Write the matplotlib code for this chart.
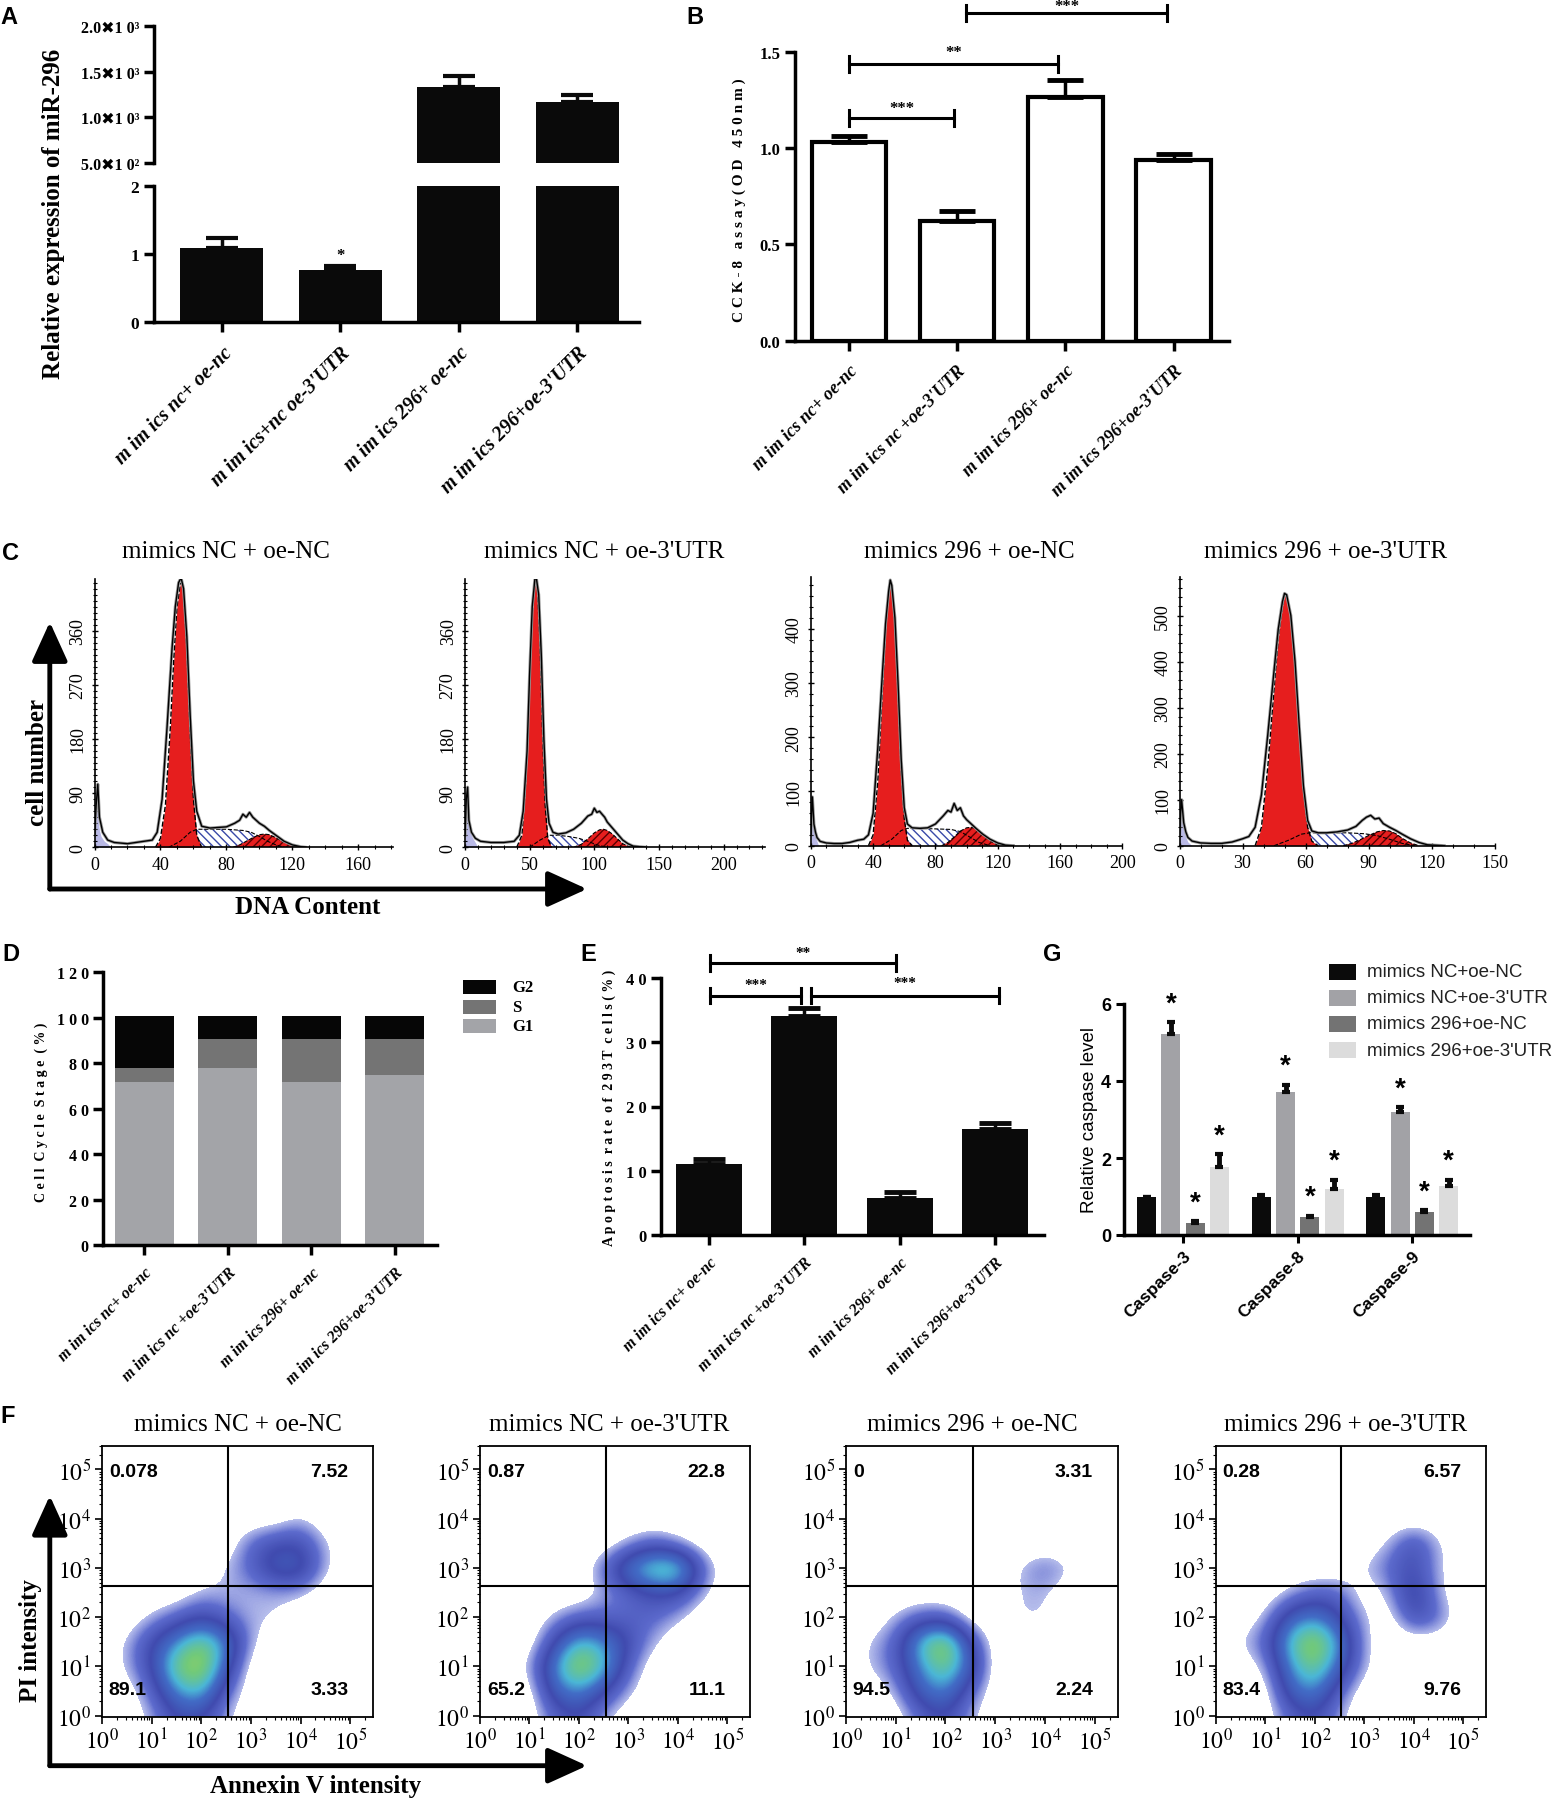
import numpy as np
import matplotlib
matplotlib.use('Agg')
import matplotlib.pyplot as plt
from matplotlib.patches import FancyArrowPatch, Rectangle
from matplotlib.colors import LinearSegmentedColormap
from matplotlib.ticker import MultipleLocator, FixedLocator

plt.rcParams['font.family'] = ['Liberation Serif', 'DejaVu Sans']
plt.rcParams['mathtext.fontset'] = 'stix'
plt.rcParams['hatch.linewidth'] = 1.0

# ---------------- data ----------------
# Panel A
a_labels = ["m im ics nc+ oe-nc", "m im ics+nc oe-3'UTR", "m im ics 296+ oe-nc", "m im ics 296+oe-3'UTR"]
a_mean = [1.09, 0.76, 1330, 1173]
a_err = [0.145, 0.06, 121, 77]
a_upper_ticks = [500, 1000, 1500, 2000]
a_upper_labels = ['5.0\u27161 0\u00b2', '1.0\u27161 0\u00b3', '1.5\u27161 0\u00b3', '2.0\u27161 0\u00b3']

# Panel B
b_labels = ["m im ics nc+ oe-nc", "m im ics nc +oe-3'UTR", "m im ics 296+ oe-nc", "m im ics 296+oe-3'UTR"]
b_mean = [1.033, 0.623, 1.263, 0.939]
b_err = [0.031, 0.052, 0.090, 0.030]

# Panel C (flow cytometry DNA histograms)
c_titles = ["mimics NC + oe-NC", "mimics NC + oe-3'UTR", "mimics 296 + oe-NC", "mimics 296 + oe-3'UTR"]
c_xticks = [[0, 40, 80, 120, 160], [0, 50, 100, 150, 200], [0, 40, 80, 120, 160, 200], [0, 30, 60, 90, 120, 150]]
c_yticks = [[0, 90, 180, 270, 360], [0, 90, 180, 270, 360], [0, 100, 200, 300, 400], [0, 100, 200, 300, 400, 500]]
c_xmax = [181, 232, 200, 150]
c_ymax = [446, 446, 495, 583]

c1_env_x = [0, 1, 2, 3, 5, 8, 12, 20, 30, 35, 38, 41, 44, 47, 49, 51, 52.5, 54, 56, 58, 60, 62, 65, 70, 75, 80, 85, 88, 90, 92, 94, 96, 98, 100, 103, 106, 110, 115, 120, 125, 128]
c1_env_y = [20, 70, 105, 50, 25, 12, 8, 6, 10, 12, 25, 80, 200, 330, 400, 440, 448, 430, 350, 220, 110, 60, 35, 32, 33, 34, 40, 45, 55, 50, 58, 50, 45, 40, 35, 28, 20, 10, 4, 1, 0]
c1_g1_x = [37, 40, 43, 46, 48, 50, 52, 53, 54, 56, 58, 60, 62, 65]
c1_g1_y = [0, 15, 70, 200, 310, 400, 438, 440, 425, 330, 190, 80, 20, 0]
c1_s_x = [45, 52, 58, 62, 70, 80, 90, 95, 100, 105, 110, 115]
c1_s_y = [0, 10, 25, 30, 30, 30, 28, 25, 18, 10, 4, 0]
c1_g2_x = [84, 88, 92, 96, 100, 103, 106, 110, 114, 118, 122, 125]
c1_g2_y = [0, 4, 10, 16, 21, 22, 21, 16, 10, 5, 1, 0]
c1_deb_x = [0, 0.5, 1, 1.5, 2, 3, 4, 6, 8, 10]
c1_deb_y = [0, 40, 60, 65, 50, 28, 18, 10, 6, 0]

c2_env_x = [0, 1, 2, 3, 5, 8, 12, 20, 30, 38, 42, 45, 48, 50, 52, 54, 55, 57, 59, 61, 63, 65, 68, 72, 78, 84, 90, 95, 98, 100, 102, 104, 106, 108, 110, 114, 118, 122, 126, 130, 135, 140]
c2_env_y = [20, 80, 100, 45, 25, 15, 10, 8, 8, 10, 20, 60, 160, 290, 400, 445, 450, 420, 320, 180, 80, 40, 25, 22, 24, 30, 40, 52, 55, 65, 58, 60, 55, 50, 42, 32, 22, 12, 6, 2, 1, 0]
c2_g1_x = [40, 44, 47, 50, 52, 54, 55, 56, 58, 60, 62, 64, 67]
c2_g1_y = [0, 20, 110, 280, 390, 440, 445, 430, 340, 190, 70, 15, 0]
c2_s_x = [50, 58, 65, 72, 80, 88, 95, 102, 110]
c2_s_y = [0, 12, 20, 20, 18, 15, 10, 4, 0]
c2_g2_x = [84, 90, 95, 100, 104, 107, 110, 114, 118, 122, 126, 130]
c2_g2_y = [0, 5, 14, 24, 29, 30, 28, 22, 14, 6, 2, 0]
c2_deb_x = [0, 1, 2, 3, 4, 6, 8, 10]
c2_deb_y = [0, 60, 70, 40, 25, 15, 8, 0]

c3_env_x = [0, 0.5, 1, 2, 3, 4, 6, 10, 15, 20, 25, 30, 34, 37, 40, 43, 46, 48, 50, 51, 52, 54, 56, 58, 60, 62, 65, 70, 75, 80, 85, 88, 90, 92, 94, 96, 98, 100, 103, 106, 110, 115, 120, 125, 130]
c3_env_y = [20, 60, 90, 40, 25, 15, 8, 5, 4, 4, 6, 10, 12, 20, 60, 180, 320, 410, 470, 490, 480, 420, 300, 160, 70, 40, 33, 32, 33, 40, 55, 65, 62, 78, 65, 70, 55, 48, 40, 32, 22, 12, 5, 1, 0]
c3_g1_x = [37, 40, 43, 46, 48, 50, 51, 52, 54, 56, 58, 60, 62, 65]
c3_g1_y = [0, 20, 120, 290, 400, 470, 488, 480, 410, 280, 140, 50, 10, 0]
c3_s_x = [45, 52, 58, 62, 70, 80, 90, 96, 102, 108, 115]
c3_s_y = [0, 12, 28, 32, 32, 31, 30, 26, 16, 6, 0]
c3_g2_x = [84, 88, 92, 96, 100, 103, 106, 110, 114, 118, 121]
c3_g2_y = [0, 6, 16, 27, 33, 34, 32, 24, 12, 4, 0]
c3_deb_x = [0, 0.5, 1, 2, 3, 4, 5]
c3_deb_y = [0, 50, 60, 30, 15, 8, 0]

c4_env_x = [0, 0.5, 1, 2, 3, 4, 6, 10, 15, 20, 25, 30, 33, 36, 39, 42, 45, 47, 49, 50, 51, 53, 55, 57, 59, 61, 63, 66, 70, 75, 80, 84, 87, 89, 91, 93, 95, 97, 100, 103, 106, 110, 114, 118, 122, 126]
c4_env_y = [20, 70, 100, 50, 30, 18, 10, 6, 5, 5, 8, 15, 20, 40, 110, 240, 380, 470, 530, 548, 545, 500, 400, 260, 130, 55, 32, 28, 28, 30, 34, 42, 55, 62, 66, 58, 60, 48, 40, 33, 25, 15, 7, 2, 1, 0]
c4_g1_x = [36, 39, 42, 45, 47, 49, 50, 51, 53, 55, 57, 59, 61, 63, 66]
c4_g1_y = [0, 40, 170, 340, 450, 520, 545, 545, 500, 390, 250, 120, 40, 10, 0]
c4_s_x = [45, 52, 58, 62, 70, 80, 88, 94, 100, 106, 112]
c4_s_y = [0, 12, 25, 28, 28, 28, 26, 22, 14, 5, 0]
c4_g2_x = [78, 82, 86, 90, 94, 97, 100, 103, 106, 110, 114]
c4_g2_y = [0, 5, 13, 22, 30, 33, 32, 26, 16, 6, 0]
c4_deb_x = [0, 0.5, 1, 2, 3, 4, 6]
c4_deb_y = [0, 50, 70, 35, 18, 8, 0]

# Panel D
d_labels = b_labels
d_g1 = [71.6, 77.7, 71.6, 74.8]
d_s = [6.1, 12.9, 19.0, 15.8]
d_g2 = [23.0, 10.0, 10.0, 10.0]

# Panel E
e_labels = b_labels
e_mean = [10.97, 34.07, 5.72, 16.49]
e_err = [0.83, 1.23, 0.99, 0.99]

# Panel G
g_caspases = ['Caspase-3', 'Caspase-8', 'Caspase-9']
g_series = ['mimics NC+oe-NC', "mimics NC+oe-3'UTR", 'mimics 296+oe-NC', "mimics 296+oe-3'UTR"]
g_nc_nc = [1.0, 1.0, 1.0]
g_nc_utr = [5.21, 3.71, 3.20]
g_296_nc = [0.30, 0.46, 0.61]
g_296_utr = [1.77, 1.19, 1.28]
g_err_nc_nc = [0.0, 0.04, 0.04]
g_err_nc_utr = [0.31, 0.19, 0.12]
g_err_296_nc = [0.06, 0.04, 0.04]
g_err_296_utr = [0.33, 0.25, 0.16]

# Panel F: quadrant percentages (UL, UR, LL, LR)
f_titles = c_titles
f_quad = [['0.078', '7.52', '89.1', '3.33'],
          ['0.87', '22.8', '65.2', '11.1'],
          ['0', '3.31', '94.5', '2.24'],
          ['0.28', '6.57', '83.4', '9.76']]
# density of events on 0.5-decade grid (rows: log10 PI = 5.5 ... 0.0, cols: log10 Annexin = 0.0 ... 5.5)
f1_density = ['000000000000', '000000000000', '000000000000',
              '000000001000', '000000233100', '000001244100',
              '000011111000', '001232110000', '013575100000',
              '013784000000', '002562000000', '001331000000']
f2_density = ['000000000000', '000000000000', '000000000000',
              '000000000000', '000000121000', '000002577200',
              '000001233100', '000122221000', '000365310000',
              '001586200000', '000453100000', '000231000000']
f3_density = ['000000000000', '000000000000', '000000000000',
              '000000000000', '000000000000', '000000012100',
              '000000011000', '001220011000', '012683000000',
              '012574000000', '001452000000', '000231000000']
f4_density = ['000000000000', '000000000000', '000000000000',
              '000001000000', '000000013100', '000000123100',
              '000122014100', '001453103200', '012685100000',
              '001574100000', '000452000000', '000231000000']
f_qx = [2.54, 2.55, 2.55, 2.54]
f_qy = 2.63

# ---------------- figure ----------------
W, H = 1558, 1799
fig = plt.figure(figsize=(W / 100, H / 100), dpi=100)
fig.patch.set_facecolor('white')
SERIF = ['Liberation Serif', 'DejaVu Sans']
SANS = ['Liberation Sans', 'DejaVu Sans']


def axpx(x0, y0, x1, y1):
    return fig.add_axes([x0 / W, 1 - y1 / H, (x1 - x0) / W, (y1 - y0) / H])


def ftext(x, y, s, **kw):
    return fig.text(x / W, 1 - y / H, s, **kw)


def farrow(x0, y0, x1, y1):
    fig.add_artist(FancyArrowPatch((x0 / W, 1 - y0 / H), (x1 / W, 1 - y1 / H),
                                   transform=fig.transFigure,
                                   arrowstyle='-|>,head_length=1.1,head_width=0.5',
                                   mutation_scale=22, lw=3.5, color='black',
                                   shrinkA=0, shrinkB=0))


def clean(ax, lw=2.5):
    for s in ('top', 'right'):
        ax.spines[s].set_visible(False)
    for s in ('left', 'bottom'):
        ax.spines[s].set_linewidth(lw)


def bracket(ax, x0, x1, y, dy, label, ly, fs=12):
    ax.plot([x0, x1], [y, y], color='black', lw=2.2, clip_on=False)
    ax.plot([x0, x0], [y - dy, y + dy], color='black', lw=2.2, clip_on=False)
    ax.plot([x1, x1], [y - dy, y + dy], color='black', lw=2.2, clip_on=False)
    ax.text((x0 + x1) / 2, ly, label, ha='center', va='center', fontsize=fs,
            fontweight='bold', clip_on=False)


# panel letters
for lx, ly, lt in [(0, 17, 'A'), (686, 17, 'B'), (2, 553, 'C'), (2, 955, 'D'),
                   (580, 955, 'E'), (1043, 955, 'G'), (0, 1417, 'F')]:
    ftext(lx, ly, lt, fontsize=17, fontweight='bold', family=SANS, ha='left', va='center')

# ---------- Panel A ----------
xa = np.arange(len(a_mean))
axAu = axpx(154, 27.3, 639, 164)
axAl = axpx(154, 186.7, 639, 322.7)
for ax in (axAu, axAl):
    ax.bar(xa, a_mean, width=0.7, color='#0a0a0a')
    ax.errorbar(xa, a_mean, yerr=[np.zeros(len(a_err)), a_err], fmt='none', ecolor='#0a0a0a',
                elinewidth=2.5, capsize=11.5, capthick=3)
    ax.set_xlim(-0.573, 3.52)
    clean(ax)
    ax.tick_params(width=2.5, length=7)
axAu.set_ylim(500, 2000)
axAu.spines['bottom'].set_visible(False)
axAu.set_xticks([])
axAu.set_yticks(a_upper_ticks)
axAu.set_yticklabels(a_upper_labels, fontsize=11.5, fontweight='bold')
axAl.set_ylim(0, 2)
axAl.set_yticks([0, 1, 2])
axAl.set_yticklabels(['0', '1', '2'], fontsize=12.5, fontweight='bold')
axAl.set_xticks(xa)
axAl.set_xticklabels(a_labels, rotation=45, ha='right', rotation_mode='anchor', fontsize=14.5,
                     fontweight='bold', fontstyle='italic')
axAl.tick_params(axis='x', pad=8)
axAl.text(1, 0.98, '*', ha='center', va='center', fontsize=12, fontweight='bold')
ftext(54, 214, 'Relative expression of miR-296', rotation=90, ha='center', va='center',
      fontsize=18, fontweight='bold')

# ---------- Panel B ----------
xb = np.arange(len(b_mean))
axB = axpx(794.8, 52.7, 1228.7, 341.7)
axB.bar(xb, b_mean, width=0.69, facecolor='white', edgecolor='black', linewidth=3)
axB.errorbar(xb, b_mean, yerr=[np.zeros(len(b_err)), b_err], fmt='none', ecolor='black',
             elinewidth=2.5, capsize=13, capthick=3.5)
axB.set_xlim(-0.5, 3.51)
axB.set_ylim(0, 1.5)
clean(axB)
axB.tick_params(width=2.5, length=7)
axB.set_yticks([0, 0.5, 1.0, 1.5])
axB.set_yticklabels(['0.0', '0.5', '1.0', '1.5'], fontsize=12, fontweight='bold')
axB.set_xticks(xb)
axB.set_xticklabels(b_labels, rotation=45, ha='right', rotation_mode='anchor', fontsize=13,
                    fontweight='bold', fontstyle='italic')
axB.tick_params(axis='x', pad=8)
bracket(axB, 0, 0.973, 1.156, 0.043, '***', 1.21)
bracket(axB, 0, 1.935, 1.436, 0.043, '**', 1.497)
bracket(axB, 1.086, 2.94, 1.70, 0.043, '***', 1.735)
ftext(739, 200, 'C C K - 8   a s s a y ( O D   4 5 0 n m )', rotation=90, ha='center', va='center',
      fontsize=11, fontweight='bold')

# ---------- Panel C ----------
c_boxes = [(94.5, 580, 393, 848.3), (465, 580, 765, 848.3),
           (810.8, 578.3, 1122.4, 846.7), (1179.5, 578.3, 1494.6, 846.7)]
c_title_x = [226, 604.5, 969.8, 1325.9]
c_data = [
    (c1_env_x, c1_env_y, c1_g1_x, c1_g1_y, c1_s_x, c1_s_y, c1_g2_x, c1_g2_y, c1_deb_x, c1_deb_y),
    (c2_env_x, c2_env_y, c2_g1_x, c2_g1_y, c2_s_x, c2_s_y, c2_g2_x, c2_g2_y, c2_deb_x, c2_deb_y),
    (c3_env_x, c3_env_y, c3_g1_x, c3_g1_y, c3_s_x, c3_s_y, c3_g2_x, c3_g2_y, c3_deb_x, c3_deb_y),
    (c4_env_x, c4_env_y, c4_g1_x, c4_g1_y, c4_s_x, c4_s_y, c4_g2_x, c4_g2_y, c4_deb_x, c4_deb_y),
]
c_yminor = [10, 10, 20, 20]
for i in range(4):
    ax = axpx(*c_boxes[i])
    ex, ey, g1x, g1y, sx, sy, g2x, g2y, dx, dy = c_data[i]
    ax.fill_between(dx, dy, color='#b9b9e6', lw=0)
    ax.fill_between(sx, sy, facecolor='white', edgecolor='#3949a8', hatch='\\\\\\\\', lw=0)
    ax.plot(sx, sy, color='black', lw=0.8, ls='--')
    ax.fill_between(g1x, g1y, color='#e61e1e', lw=0)
    ax.plot(g1x, g1y, color='black', lw=1.0, ls='--')
    ax.fill_between(g2x, g2y, facecolor='#e61e1e', edgecolor='#5a0000', hatch='////', lw=0)
    ax.plot(g2x, g2y, color='black', lw=0.8, ls='--')
    ax.plot(ex, ey, color='#999999', lw=2.2)
    ax.plot(ex, ey, color='black', lw=1.0)
    ax.set_xlim(0, c_xmax[i])
    ax.set_ylim(0, c_ymax[i])
    clean(ax, lw=1.2)
    ax.set_xticks(c_xticks[i])
    ax.set_xticklabels([str(v) for v in c_xticks[i]], fontsize=13)
    ax.set_yticks(c_yticks[i])
    ax.set_yticklabels([str(v) for v in c_yticks[i]], fontsize=13, rotation=90, va='center')
    ax.yaxis.set_minor_locator(MultipleLocator(c_yminor[i]))
    ax.xaxis.set_minor_locator(MultipleLocator(10))
    ax.tick_params(which='major', length=5, width=1.0, direction='inout')
    ax.tick_params(which='minor', length=3, width=0.8, direction='inout')
    ftext(c_title_x[i], 551.7, c_titles[i], ha='center', va='center', fontsize=18)

farrow(49.8, 890, 49.8, 623)
farrow(49.8, 890, 587, 890)
ftext(37, 763, 'cell number', rotation=90, ha='center', va='center', fontsize=18, fontweight='bold')
ftext(308, 908, 'DNA Content', ha='center', va='center', fontsize=18, fontweight='bold')

# ---------- Panel D ----------
xd = np.arange(len(d_g1))
axD = axpx(103.3, 973.3, 437.3, 1246)
c_g1, c_s, c_g2 = '#a3a4a8', '#747474', '#060606'
axD.bar(xd, d_g1, width=0.71, color=c_g1)
axD.bar(xd, d_s, width=0.71, bottom=d_g1, color=c_s)
axD.bar(xd, d_g2, width=0.71, bottom=np.add(d_g1, d_s), color=c_g2)
axD.set_xlim(-0.49, 3.51)
axD.set_ylim(0, 120)
clean(axD)
axD.tick_params(width=2.5, length=7)
axD.set_yticks([0, 20, 40, 60, 80, 100, 120])
axD.set_yticklabels(['0', '2 0', '4 0', '6 0', '8 0', '1 0 0', '1 2 0'], fontsize=11.5, fontweight='bold')
axD.set_xticks(xd)
axD.set_xticklabels(d_labels, rotation=45, ha='right', rotation_mode='anchor', fontsize=11.5,
                    fontweight='bold', fontstyle='italic')
axD.tick_params(axis='x', pad=7)
ftext(41, 1112, 'C e l l  C y c l e  S t a g e  ( % )', rotation=90, ha='center', va='center',
      fontsize=10, fontweight='bold')
for yy, col, lab in [(988, c_g2, 'G2'), (1008, c_s, 'S'), (1027, c_g1, 'G1')]:
    fig.add_artist(Rectangle((463 / W, 1 - (yy + 7) / H), 33 / W, 14 / H, transform=fig.transFigure,
                             facecolor=col, edgecolor='none'))
    ftext(512, yy, lab, ha='left', va='center', fontsize=12, fontweight='bold')

# ---------- Panel E ----------
xe = np.arange(len(e_mean))
axE = axpx(661, 979.3, 1044, 1235.7)
axE.bar(xe, e_mean, width=0.69, color='#0a0a0a')
axE.errorbar(xe, e_mean, yerr=[np.zeros(len(e_err)), e_err], fmt='none', ecolor='#0a0a0a',
             elinewidth=2.5, capsize=11.3, capthick=3.5)
axE.set_xlim(-0.5, 3.51)
axE.set_ylim(0, 40)
clean(axE)
axE.tick_params(width=2.5, length=7)
axE.set_yticks([0, 10, 20, 30, 40])
axE.set_yticklabels(['0', '1 0', '2 0', '3 0', '4 0'], fontsize=12, fontweight='bold')
axE.set_xticks(xe)
axE.set_xticklabels(e_labels, rotation=45, ha='right', rotation_mode='anchor', fontsize=11.5,
                    fontweight='bold', fontstyle='italic')
axE.tick_params(axis='x', pad=7)
bracket(axE, 0.014, 0.965, 37.3, 1.2, '***', 39.1, fs=11)
bracket(axE, 1.073, 3.035, 37.3, 1.2, '***', 39.3, fs=11)
bracket(axE, 0.014, 1.965, 42.4, 1.2, '**', 44.1, fs=11)
ftext(609.7, 1108, 'A p o p t o s i s  r a t e  o f  2 9 3 T  c e l l s ( % )', rotation=90,
      ha='center', va='center', fontsize=10, fontweight='bold')

# ---------- Panel G ----------
xg = np.arange(len(g_caspases))
axG = axpx(1124.2, 1005, 1469.5, 1236)
g_vals = [g_nc_nc, g_nc_utr, g_296_nc, g_296_utr]
g_errs = [g_err_nc_nc, g_err_nc_utr, g_err_296_nc, g_err_296_utr]
g_cols = ['#0b0b0b', '#a2a2a6', '#737373', '#dcdcdc']
g_off = [-0.318, -0.106, 0.106, 0.318]
for k in range(4):
    pos = xg + g_off[k]
    axG.bar(pos, g_vals[k], width=0.167, color=g_cols[k])
    axG.errorbar(pos, g_vals[k], yerr=[np.zeros(3), g_errs[k]], fmt='none', ecolor='#0b0b0b',
                 elinewidth=3.5, capsize=3, capthick=3)
    if k > 0:
        for j in range(3):
            axG.text(pos[j], g_vals[k][j] + g_errs[k][j] + 0.15, '*', ha='center', va='bottom',
                     fontsize=20, family=SANS, fontweight='bold')
axG.set_xlim(-0.513, 2.499)
axG.set_ylim(0, 6)
clean(axG)
axG.tick_params(width=2.2, length=6)
axG.set_yticks([0, 2, 4, 6])
axG.set_yticklabels(['0', '2', '4', '6'], fontsize=13, fontweight='bold', family=SANS)
axG.set_xticks(xg)
axG.set_xticklabels(g_caspases, rotation=45, ha='right', rotation_mode='anchor', fontsize=12.5,
                    fontweight='bold', family=SANS)
ftext(1089.6, 1120, 'Relative caspase level', rotation=90, ha='center', va='center', fontsize=13.5,
      family=SANS)
for yy, col, lab in zip([972.7, 999, 1025, 1051], g_cols, g_series):
    fig.add_artist(Rectangle((1329 / W, 1 - (yy + 8) / H), 27 / W, 16 / H, transform=fig.transFigure,
                             facecolor=col, edgecolor='none'))
    ftext(1367, yy, lab, ha='left', va='center', fontsize=13.5, family=SANS, color='#222222')

# ---------- Panel F ----------
f_boxes = [(102, 1446.7, 373, 1717.5), (480, 1446.7, 750, 1717.5),
           (846, 1446.7, 1117.5, 1717.5), (1215.7, 1446.7, 1485.7, 1717.5)]
f_title_x = [237.6, 609.5, 972.3, 1345.8]
f_dens = [f1_density, f2_density, f3_density, f4_density]
cmap = LinearSegmentedColormap.from_list('flow', [(0.0, '#aeb6ea'), (0.12, '#4a5ac8'), (0.3, '#2a36a6'),
                                                  (0.5, '#2c5cc0'), (0.64, '#36aed2'), (0.82, '#62c46a'),
                                                  (1.0, '#b0da3a')])
cmap.set_under('white')
minor_log = [k + np.log10(m) for k in range(6) for m in range(2, 10)]
for i in range(4):
    ax = axpx(*f_boxes[i])
    grid = np.array([[int(c) for c in row] for row in f_dens[i]], dtype=float)[::-1]
    ax.imshow(grid, origin='lower', extent=(-0.25, 5.75, -0.25, 5.75), cmap=cmap, vmin=0.9, vmax=8,
              interpolation='bicubic', aspect='auto', alpha=0.9)
    ax.axvline(f_qx[i], color='black', lw=1.5)
    ax.axhline(f_qy, color='black', lw=1.5)
    ax.set_xlim(0, 5.46)
    ax.set_ylim(-0.02, 5.48)
    for s in ax.spines.values():
        s.set_linewidth(1.3)
    ax.set_xticks(range(6))
    ax.set_yticks(range(6))
    ax.set_xticklabels([r'$10^{%d}$' % k for k in range(6)], fontsize=17)
    ax.set_yticklabels([r'$10^{%d}$' % k for k in range(6)], fontsize=17)
    ax.xaxis.set_minor_locator(FixedLocator(minor_log))
    ax.yaxis.set_minor_locator(FixedLocator(minor_log))
    ax.tick_params(which='major', length=5, width=1.2, pad=3)
    ax.tick_params(which='minor', length=2.5, width=0.8)
    q = f_quad[i]
    ax.text(0.025, 0.905, q[0], transform=ax.transAxes, ha='left', va='center', fontsize=14,
            fontweight='bold', family=SANS)
    ax.text(0.91, 0.905, q[1], transform=ax.transAxes, ha='right', va='center', fontsize=14,
            fontweight='bold', family=SANS)
    ax.text(0.025, 0.098, q[2], transform=ax.transAxes, ha='left', va='center', fontsize=14,
            fontweight='bold', family=SANS)
    ax.text(0.91, 0.098, q[3], transform=ax.transAxes, ha='right', va='center', fontsize=14,
            fontweight='bold', family=SANS)
    ftext(f_title_x[i], 1425, f_titles[i], ha='center', va='center', fontsize=18)

farrow(49.8, 1766.7, 49.8, 1496.7)
farrow(49.8, 1766.7, 587, 1766.7)
ftext(30, 1641, 'PI intensity', rotation=90, ha='center', va='center', fontsize=18, fontweight='bold')
ftext(316, 1787, 'Annexin V intensity', ha='center', va='center', fontsize=18, fontweight='bold')

fig.savefig('out.png', dpi=100, facecolor='white')
